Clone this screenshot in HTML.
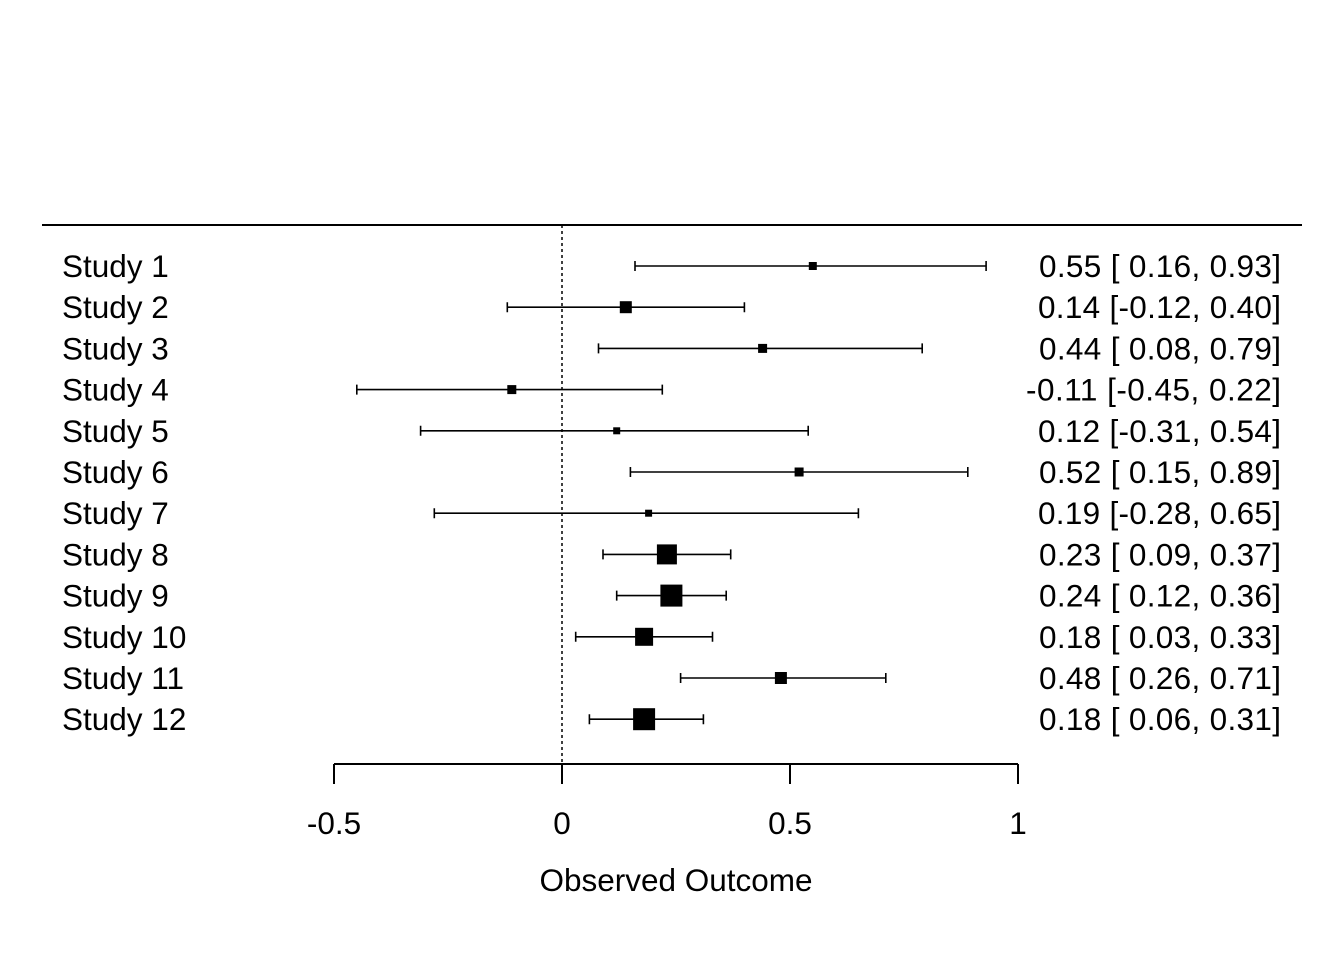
<!DOCTYPE html>
<html><head><meta charset="utf-8"><style>body{margin:0;background:#fff}svg{display:block}text{font-family:"Liberation Sans",Arial,sans-serif;font-size:31.5px;fill:#000}</style></head><body>
<svg width="1344" height="960" viewBox="0 0 1344 960">
<line x1="42" y1="225" x2="1302" y2="225" stroke="#000" stroke-width="2"/>
<line x1="562" y1="225" x2="562" y2="764" stroke="#000" stroke-width="1.5" stroke-dasharray="3,3"/>
<g stroke="#000" stroke-width="1.6" fill="none">
<path d="M635 266H986.1M635 261V271M986.1 261V271"/>
<path d="M507.3 307.2H744.4M507.3 302.2V312.2M744.4 302.2V312.2"/>
<path d="M598.5 348.4H922.2M598.5 343.4V353.4M922.2 343.4V353.4"/>
<path d="M356.8 389.6H662.3M356.8 384.6V394.6M662.3 384.6V394.6"/>
<path d="M420.6 430.8H808.2M420.6 425.8V435.8M808.2 425.8V435.8"/>
<path d="M630.4 472H967.8M630.4 467V477M967.8 467V477"/>
<path d="M434.3 513.2H858.4M434.3 508.2V518.2M858.4 508.2V518.2"/>
<path d="M603 554.4H730.7M603 549.4V559.4M730.7 549.4V559.4"/>
<path d="M616.7 595.6H726.2M616.7 590.6V600.6M726.2 590.6V600.6"/>
<path d="M575.7 636.8H712.5M575.7 631.8V641.8M712.5 631.8V641.8"/>
<path d="M680.6 678H885.8M680.6 673V683M885.8 673V683"/>
<path d="M589.4 719.2H703.4M589.4 714.2V724.2M703.4 714.2V724.2"/>
</g>
<g fill="#000">
<rect x="808.8" y="262" width="8" height="8"/>
<rect x="619.8" y="301.2" width="12" height="12"/>
<rect x="758.1" y="343.9" width="9" height="9"/>
<rect x="507.3" y="385.1" width="9" height="9"/>
<rect x="613.2" y="427.3" width="7" height="7"/>
<rect x="794.6" y="467.5" width="9" height="9"/>
<rect x="645.1" y="509.7" width="7" height="7"/>
<rect x="656.9" y="544.4" width="20" height="20"/>
<rect x="660.4" y="584.6" width="22" height="22"/>
<rect x="635.1" y="627.8" width="18" height="18"/>
<rect x="774.9" y="672" width="12" height="12"/>
<rect x="633.1" y="708.2" width="22" height="22"/>
</g>
<g>
<text x="62" y="277">Study 1</text>
<text x="62" y="318.2">Study 2</text>
<text x="62" y="359.4">Study 3</text>
<text x="62" y="400.6">Study 4</text>
<text x="62" y="441.8">Study 5</text>
<text x="62" y="483">Study 6</text>
<text x="62" y="524.2">Study 7</text>
<text x="62" y="565.4">Study 8</text>
<text x="62" y="606.6">Study 9</text>
<text x="62" y="647.8">Study 10</text>
<text x="62" y="689">Study 11</text>
<text x="62" y="730.2">Study 12</text>
</g>
<g text-anchor="end" xml:space="preserve">
<text x="1281" y="277" textLength="242" lengthAdjust="spacing">0.55 [ 0.16, 0.93]</text>
<text x="1281" y="318.2" textLength="243" lengthAdjust="spacing">0.14 [-0.12, 0.40]</text>
<text x="1281" y="359.4" textLength="242" lengthAdjust="spacing">0.44 [ 0.08, 0.79]</text>
<text x="1281" y="400.6" textLength="255" lengthAdjust="spacing">-0.11 [-0.45, 0.22]</text>
<text x="1281" y="441.8" textLength="243" lengthAdjust="spacing">0.12 [-0.31, 0.54]</text>
<text x="1281" y="483" textLength="242" lengthAdjust="spacing">0.52 [ 0.15, 0.89]</text>
<text x="1281" y="524.2" textLength="243" lengthAdjust="spacing">0.19 [-0.28, 0.65]</text>
<text x="1281" y="565.4" textLength="242" lengthAdjust="spacing">0.23 [ 0.09, 0.37]</text>
<text x="1281" y="606.6" textLength="242" lengthAdjust="spacing">0.24 [ 0.12, 0.36]</text>
<text x="1281" y="647.8" textLength="242" lengthAdjust="spacing">0.18 [ 0.03, 0.33]</text>
<text x="1281" y="689" textLength="242" lengthAdjust="spacing">0.48 [ 0.26, 0.71]</text>
<text x="1281" y="730.2" textLength="242" lengthAdjust="spacing">0.18 [ 0.06, 0.31]</text>
</g>
<line x1="334" y1="764" x2="1018" y2="764" stroke="#000" stroke-width="2"/>
<g stroke="#000" stroke-width="2">
<line x1="334" y1="764" x2="334" y2="784"/><line x1="562" y1="764" x2="562" y2="784"/><line x1="790" y1="764" x2="790" y2="784"/><line x1="1018" y1="764" x2="1018" y2="784"/>
</g>
<g text-anchor="middle">
<text x="334" y="834">-0.5</text><text x="562" y="834">0</text><text x="790" y="834">0.5</text><text x="1018" y="834">1</text>
<text x="676" y="891">Observed Outcome</text>
</g>
</svg>
</body></html>
